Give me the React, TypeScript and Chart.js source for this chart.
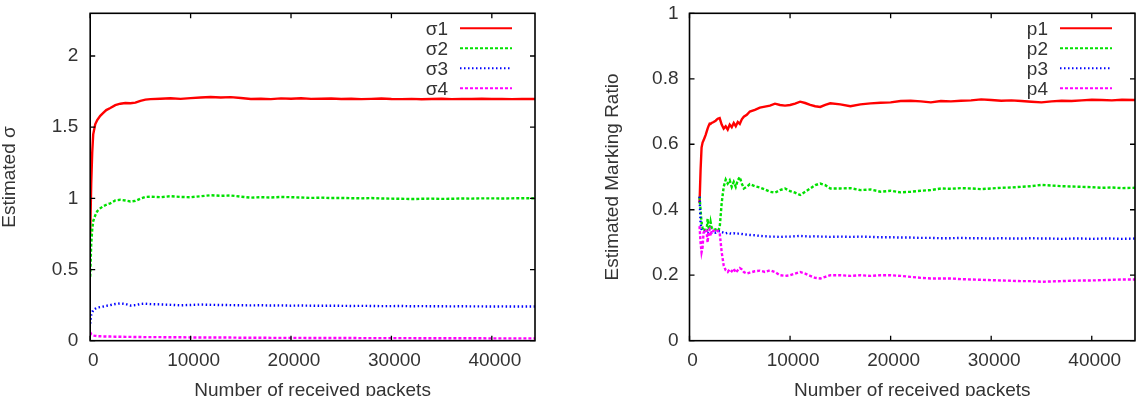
import { useEffect, useRef } from "react";
import { Chart, registerables } from "chart.js";

Chart.register(...registerables);

const FONT = "'Liberation Sans', Arial, Helvetica, sans-serif";
const TEXT_COLOR = "#333333";

// ---- left panel: estimated sigma per class ----
const SIGMA_X = [
  0, 100, 200, 300, 500, 700, 1000, 1300, 1600, 2000, 2500, 3000, 3500, 4000, 4500, 5000, 5500, 6000,
  7000, 8000, 9000, 10000, 11000, 12000, 13000, 14000, 15000, 16000, 17000, 18000, 19000, 20000,
  21000, 22000, 23000, 24000, 25000, 26000, 27000, 28000, 29000, 30000, 31000, 32000, 33000, 34000,
  35000, 36000, 37000, 38000, 39000, 40000, 41000, 42000, 43000, 44300,
];
const SIGMA_1 = [
  0.75, 1.1, 1.32, 1.45, 1.52, 1.55, 1.58, 1.6, 1.62, 1.635, 1.655, 1.665, 1.67, 1.668, 1.672, 1.685, 1.694, 1.697,
  1.7, 1.703, 1.699, 1.704, 1.708, 1.712, 1.709, 1.711, 1.705, 1.698, 1.7, 1.697, 1.702, 1.7,
  1.703, 1.699, 1.7, 1.701, 1.698, 1.7, 1.697, 1.699, 1.701, 1.698, 1.697, 1.699, 1.696, 1.698,
  1.7, 1.697, 1.699, 1.698, 1.7, 1.698, 1.699, 1.697, 1.699, 1.698,
];
const SIGMA_2 = [
  0.45, 0.68, 0.78, 0.84, 0.88, 0.91, 0.93, 0.945, 0.955, 0.965, 0.985, 0.99, 0.985, 0.978, 0.982, 0.998, 1.01, 1.012,
  1.008, 1.015, 1.01, 1.008, 1.015, 1.022, 1.018, 1.02, 1.012, 1.005, 1.008, 1.006, 1.01, 1.008,
  1.006, 1.003, 1.005, 1.002, 1.003, 1.001, 1.0, 1.002, 0.999, 0.998, 0.997, 0.995, 0.997, 0.998,
  0.996, 0.997, 0.999, 0.998, 1.0, 1.0, 0.999, 1.0, 1.001, 1.0,
];
const SIGMA_3 = [
  0.12, 0.18, 0.2, 0.215, 0.225, 0.232, 0.236, 0.24, 0.245, 0.25, 0.258, 0.262, 0.258, 0.247, 0.25, 0.258, 0.26, 0.257,
  0.255, 0.252, 0.249, 0.251, 0.254, 0.252, 0.251, 0.25, 0.249, 0.248, 0.249, 0.247, 0.248, 0.246,
  0.247, 0.246, 0.245, 0.246, 0.245, 0.244, 0.245, 0.244, 0.243, 0.243, 0.244, 0.242, 0.243, 0.242,
  0.242, 0.241, 0.242, 0.241, 0.241, 0.24, 0.241, 0.24, 0.24, 0.24,
];
const SIGMA_4 = [
  0.06, 0.045, 0.04, 0.036, 0.034, 0.032, 0.031, 0.03, 0.03, 0.029, 0.028, 0.028, 0.027, 0.027, 0.026, 0.026, 0.025, 0.025,
  0.025, 0.024, 0.024, 0.023, 0.023, 0.022, 0.022, 0.022, 0.021, 0.021, 0.021, 0.02, 0.02, 0.02,
  0.02, 0.019, 0.019, 0.019, 0.019, 0.019, 0.018, 0.018, 0.018, 0.018, 0.018, 0.018, 0.017, 0.017,
  0.017, 0.017, 0.017, 0.017, 0.017, 0.016, 0.016, 0.016, 0.016, 0.016,
];

// ---- right panel: estimated marking ratio per class ----
const P_X = [
  1000, 1100, 1200, 1300, 1400, 1500, 1600, 1700, 1800, 1900, 2000, 2100, 2200,
  2400, 2600, 2800, 3000, 3200, 3400, 3600, 3800, 4000, 4200, 4400, 4600, 4800, 5000, 5200, 5400,
  5700, 6000, 6500, 7000, 7500, 8000, 8500, 9000, 9500, 10000, 10500, 11000, 11500, 12000, 12500, 13000, 13500, 14000,
  15000, 16000, 17000, 18000, 19000, 20000, 21000, 22000, 23000, 24000, 25000, 26000, 27000, 28000, 29000,
  30000, 31000, 32000, 33000, 34000, 35000, 36000, 37000, 38000, 39000, 40000, 41000, 42000, 43000, 44300,
];
const P_1 = [
  0.42, 0.52, 0.59, 0.605, 0.612, 0.62, 0.628, 0.638, 0.648, 0.656, 0.663, 0.662, 0.665,
  0.668, 0.672, 0.678, 0.68, 0.66, 0.648, 0.655, 0.645, 0.66, 0.652, 0.665, 0.655, 0.668, 0.662, 0.676, 0.684,
  0.69, 0.7, 0.705, 0.712, 0.715, 0.718, 0.724, 0.72, 0.718, 0.72, 0.724, 0.73, 0.726, 0.72, 0.716, 0.714, 0.72, 0.725,
  0.722, 0.716, 0.722, 0.725, 0.727, 0.728, 0.732, 0.733, 0.731, 0.728, 0.732, 0.731, 0.733, 0.734, 0.737,
  0.735, 0.733, 0.734, 0.732, 0.73, 0.728, 0.731, 0.733, 0.732, 0.734, 0.736, 0.735, 0.734, 0.736, 0.735,
];
const P_2 = [
  0.44, 0.4, 0.36, 0.345, 0.335, 0.338, 0.33, 0.335, 0.372, 0.345, 0.34, 0.362, 0.345,
  0.338, 0.34, 0.335, 0.345, 0.42, 0.47, 0.492, 0.48, 0.49, 0.47, 0.485, 0.47, 0.49, 0.5, 0.48, 0.465,
  0.47, 0.478, 0.472, 0.468, 0.462, 0.455, 0.452, 0.46, 0.465, 0.457, 0.452, 0.445, 0.455, 0.465, 0.475, 0.48, 0.475, 0.465,
  0.465, 0.466, 0.46, 0.462, 0.455, 0.458, 0.453, 0.455, 0.458, 0.46, 0.465, 0.464, 0.466, 0.465, 0.463,
  0.465, 0.467, 0.468, 0.47, 0.472, 0.476, 0.474, 0.472, 0.471, 0.47, 0.469, 0.467, 0.468, 0.466, 0.467,
];
const P_3 = [
  0.44, 0.36, 0.34, 0.335, 0.333, 0.332, 0.333, 0.331, 0.33, 0.332, 0.33, 0.331, 0.33,
  0.332, 0.33, 0.333, 0.335, 0.332, 0.33, 0.328, 0.33, 0.328, 0.327, 0.328, 0.326, 0.327, 0.327, 0.326, 0.325,
  0.324, 0.323, 0.322, 0.32, 0.319, 0.318, 0.318, 0.317, 0.318, 0.318, 0.319, 0.32, 0.319, 0.318, 0.319, 0.318, 0.318, 0.317,
  0.318, 0.317, 0.318, 0.317, 0.316, 0.316, 0.315, 0.315, 0.314, 0.314, 0.313, 0.313, 0.314, 0.313, 0.313,
  0.312, 0.313, 0.312, 0.312, 0.313, 0.312, 0.312, 0.311, 0.312, 0.312, 0.311, 0.312, 0.312, 0.311, 0.312,
];
const P_4 = [
  0.35, 0.3, 0.27, 0.285, 0.33, 0.335, 0.34, 0.335, 0.3, 0.335, 0.34, 0.32, 0.338,
  0.335, 0.34, 0.335, 0.33, 0.27, 0.23, 0.215, 0.21, 0.218, 0.212, 0.22, 0.208, 0.215, 0.222, 0.218, 0.21,
  0.205, 0.208, 0.212, 0.214, 0.21, 0.215, 0.21, 0.2, 0.198, 0.2, 0.205, 0.21, 0.205, 0.198, 0.192, 0.19, 0.195, 0.2,
  0.2, 0.198, 0.2, 0.198, 0.2, 0.2, 0.198, 0.195, 0.192, 0.19, 0.19, 0.19, 0.188, 0.187, 0.186,
  0.185, 0.184, 0.183, 0.182, 0.182, 0.18, 0.181, 0.182, 0.183, 0.184, 0.184, 0.185, 0.186, 0.187, 0.187,
];

// ---- axes ----
const X_MAX = 44300;
const X_TICKS = [0, 10000, 20000, 30000, 40000];
const SIGMA_TICKS = [0, 0.5, 1, 1.5, 2];
const SIGMA_MAX = 2.3;
const P_TICKS = [0, 0.2, 0.4, 0.6, 0.8, 1];
const P_MAX = 1;
const X_TITLE = "Number of received packets";
const SIGMA_TITLE = "Estimated σ";
const P_TITLE = "Estimated Marking Ratio";
const SIGMA_LABELS = ["σ1", "σ2", "σ3", "σ4"];
const P_LABELS = ["p1", "p2", "p3", "p4"];

const COLORS = ["#ff0000", "#00e000", "#0000ff", "#ff00ff"];
const DASHES = [[], [3, 2], [1.5, 2.5], [3, 2]];

// gnuplot-like border with inward ticks mirrored on all four sides
const framePlugin = {
  id: "gnuFrame",
  afterDraw(chart: any) {
    const { ctx, chartArea: a, scales } = chart;
    ctx.save();
    ctx.strokeStyle = "#000";
    ctx.lineWidth = 1.6;
    ctx.strokeRect(a.left, a.top, a.right - a.left, a.bottom - a.top);
    ctx.lineWidth = 1.3;
    const t = 5;
    ctx.beginPath();
    for (const tk of scales.x.ticks) {
      const px = scales.x.getPixelForValue(tk.value);
      ctx.moveTo(px, a.bottom);
      ctx.lineTo(px, a.bottom - t);
      ctx.moveTo(px, a.top);
      ctx.lineTo(px, a.top + t);
    }
    for (const tk of scales.y.ticks) {
      const py = scales.y.getPixelForValue(tk.value);
      ctx.moveTo(a.left, py);
      ctx.lineTo(a.left + t, py);
      ctx.moveTo(a.right, py);
      ctx.lineTo(a.right - t, py);
    }
    ctx.stroke();
    ctx.restore();
  },
};

// key in the top-right corner: right-aligned label followed by a line sample
const keyPlugin = {
  id: "gnuKey",
  afterDraw(chart: any) {
    const { ctx, chartArea: a } = chart;
    ctx.save();
    ctx.font = `19px ${FONT}`;
    ctx.textAlign = "right";
    ctx.textBaseline = "middle";
    chart.data.datasets.forEach((ds: any, i: number) => {
      const y = a.top + 15 + i * 20;
      ctx.fillStyle = TEXT_COLOR;
      ctx.setLineDash([]);
      ctx.fillText(ds.label, a.right - 87, y + 1);
      ctx.strokeStyle = ds.borderColor;
      ctx.lineWidth = 2;
      ctx.setLineDash(ds.borderDash || []);
      ctx.beginPath();
      ctx.moveTo(a.right - 75, y);
      ctx.lineTo(a.right - 23, y);
      ctx.stroke();
    });
    ctx.restore();
  },
};

type PanelProps = {
  left: number;
  xs: number[];
  series: number[][];
  labels: string[];
  yTicks: number[];
  yMax: number;
  yTitle: string;
  axisWidth: number;
  padRight: number;
  tickPad: number;
  titlePad: number;
};

function Panel(props: PanelProps) {
  const ref = useRef<HTMLCanvasElement>(null);

  useEffect(() => {
    if (!ref.current) return;
    const chart = new Chart(ref.current, {
      type: "line",
      data: {
        datasets: props.series.map((ys, i) => ({
          label: props.labels[i],
          data: props.xs.map((x, j) => ({ x, y: ys[j] })),
          borderColor: COLORS[i],
          borderDash: DASHES[i],
          borderWidth: 2.4,
          pointRadius: 0,
          fill: false,
          tension: 0,
          order: props.series.length - i,
        })),
      },
      options: {
        responsive: false,
        animation: false,
        devicePixelRatio: 1,
        layout: { padding: { top: 13.3, right: props.padRight, bottom: 0, left: 0 } },
        plugins: { legend: { display: false }, tooltip: { enabled: false } },
        scales: {
          x: {
            type: "linear",
            min: 0,
            max: X_MAX,
            grid: { display: false, drawTicks: false },
            border: { display: false },
            afterBuildTicks: (s: any) => {
              s.ticks = X_TICKS.map((v) => ({ value: v }));
            },
            afterFit: (s: any) => {
              s.height = 55.3;
              s.paddingLeft = 0;
              s.paddingRight = 0;
            },
            ticks: {
              color: TEXT_COLOR,
              font: { family: FONT, size: 19 },
              padding: 9,
              labelOffset: 3,
              autoSkip: false,
              maxRotation: 0,
              callback: (v: any) => String(v),
            },
            title: {
              display: true,
              text: X_TITLE,
              color: TEXT_COLOR,
              font: { family: FONT, size: 19, lineHeight: 0.5 },
              padding: 0,
            },
          },
          y: {
            type: "linear",
            min: 0,
            max: props.yMax,
            grid: { display: false, drawTicks: false },
            border: { display: false },
            afterBuildTicks: (s: any) => {
              s.ticks = props.yTicks.map((v) => ({ value: v }));
            },
            afterFit: (s: any) => {
              s.width = props.axisWidth;
              s.paddingTop = 0;
              s.paddingBottom = 0;
            },
            ticks: {
              color: TEXT_COLOR,
              font: { family: FONT, size: 19 },
              padding: props.tickPad,
              autoSkip: false,
              callback: (v: any) => String(v),
            },
            title: {
              display: true,
              text: props.yTitle,
              color: TEXT_COLOR,
              font: { family: FONT, size: 19, lineHeight: 1 },
              padding: { top: props.titlePad, bottom: 0 },
            },
          },
        },
      },
      plugins: [framePlugin, keyPlugin],
    } as any);
    return () => chart.destroy();
  }, []);

  return (
    <canvas
      ref={ref}
      width={573}
      height={396}
      style={{ position: "absolute", left: props.left, top: 0, width: 573, height: 396 }}
    />
  );
}

export default function App() {
  return (
    <div
      style={{
        position: "absolute",
        left: 0,
        top: 0,
        width: 1146,
        height: 396,
        background: "#ffffff",
        overflow: "hidden",
      }}
    >
      <Panel
        left={0}
        xs={SIGMA_X}
        series={[SIGMA_1, SIGMA_2, SIGMA_3, SIGMA_4]}
        labels={SIGMA_LABELS}
        yTicks={SIGMA_TICKS}
        yMax={SIGMA_MAX}
        yTitle={SIGMA_TITLE}
        axisWidth={90.2}
        padRight={38}
        tickPad={12}
        titlePad={0.5}
      />
      <Panel
        left={573}
        xs={P_X}
        series={[P_1, P_2, P_3, P_4]}
        labels={P_LABELS}
        yTicks={P_TICKS}
        yMax={P_MAX}
        yTitle={P_TITLE}
        axisWidth={116.5}
        padRight={11}
        tickPad={11}
        titlePad={30.5}
      />
    </div>
  );
}
